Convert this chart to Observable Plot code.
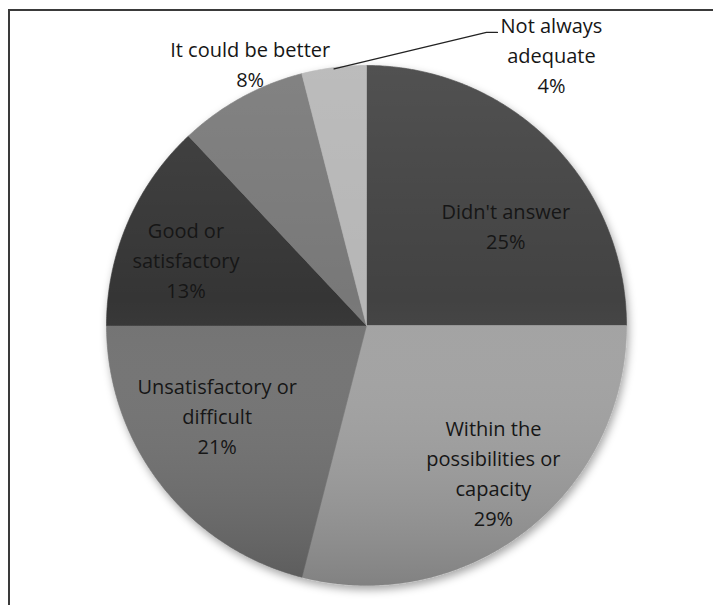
<!DOCTYPE html>
<html><head><meta charset="utf-8">
<script src="https://cdn.jsdelivr.net/npm/d3@7"></script>
<script src="https://cdn.jsdelivr.net/npm/@observablehq/plot@0.6"></script>
<style>
html,body{margin:0;padding:0;background:#fff;}
#wrap{position:relative;width:713px;height:605px;overflow:hidden;}
#chart{position:absolute;left:0;top:0;}
#frame{position:absolute;left:8px;top:9px;width:720px;height:610px;border-top:2px solid #3a3a3a;border-left:2px solid #3a3a3a;pointer-events:none;}
</style></head><body>
<div id="wrap"><div id="chart"></div><div id="frame"></div></div>
<script>
// ---- data ----
const categories = ["Didn't answer", "Within the possibilities or capacity", "Unsatisfactory or difficult", "Good or satisfactory", "It could be better", "Not always adequate"];
const labelLines = ["Didn't answer", "Within the\npossibilities or\ncapacity", "Unsatisfactory or\ndifficult", "Good or\nsatisfactory", "It could be better", "Not always\nadequate"];
const values = [25, 29, 21, 13, 8, 4];
// ---- style ----
const colors = ["#434343", "#a2a2a2", "#727272", "#363636", "#787878", "#b6b6b6"];
const labelShift = [9.5, -2.8, 6.4, -3.6, 4.8, 41.6];       // degrees from slice middle
const labelRadius = [0.658, 0.75, 0.673, 0.738, 1.1, 1.259]; // fraction of pie radius
const leaderFor = ["Not always adequate"];

// ---- layout ----
const W = 713, H = 605, cx = 366, cy = 325, R = 260;

const total = d3.sum(values);
const polar = (deg, r) => ({x: r * Math.sin(deg * Math.PI / 180), y: r * Math.cos(deg * Math.PI / 180)});
let acc = 0;
const slices = categories.map((c, i) => {
  const a0 = acc / total * 360; acc += values[i]; const a1 = acc / total * 360;
  return {category: c, i, a0, a1, mid: (a0 + a1) / 2};
});
const outline = [];
for (const s of slices) {
  outline.push({slice: s.category, ...polar(0, 0)});
  const n = Math.max(2, Math.ceil((s.a1 - s.a0) * 2));
  for (let k = 0; k <= n; k++) outline.push({slice: s.category, ...polar(s.a0 + (s.a1 - s.a0) * k / n, 1)});
  outline.push({slice: s.category, ...polar(0, 0)});
}
const labels = slices.map((s, k) => ({text: labelLines[k] + "\n" + values[k] + "%", ...polar(s.mid + labelShift[k], labelRadius[k])}));
const leaders = [];
slices.forEach((s, k) => {
  if (!leaderFor.includes(s.category)) return;
  const lab = labels[k];
  const start = polar(s.mid, 0.995);
  const end = {x: lab.x - 54 / R, y: lab.y + 23 / R};
  const elbow = {x: end.x - 11 / R, y: end.y};
  leaders.push({id: s.category, ...start}, {id: s.category, ...elbow}, {id: s.category, ...end});
});

const chart = Plot.plot({
  width: W, height: H, margin: 0,
  style: {background: "transparent"},
  x: {domain: [-1, 1], range: [cx - R, cx + R], axis: null},
  y: {domain: [-1, 1], range: [cy + R, cy - R], axis: null},
  color: {domain: categories, range: colors},
  marks: [
    Plot.line(outline, {x: "x", y: "y", z: "slice", fill: "slice", stroke: "slice", strokeWidth: 0.6, curve: "linear"}),
    Plot.line(outline, {x: "x", y: "y", z: "slice", fill: "url(#shade)", stroke: "none", curve: "linear"}),
    Plot.line(leaders, {x: "x", y: "y", z: "id", stroke: "#222", strokeWidth: 1.3}),
    Plot.text(labels, {x: "x", y: "y", text: "text", fontSize: 20, lineHeight: 1.5, dy: -2, fill: "#161616", fontFamily: "Open Sans"})
  ]
});

const ns = "http://www.w3.org/2000/svg";
const defs = document.createElementNS(ns, "defs");
defs.innerHTML = `<linearGradient id="shade" gradientUnits="userSpaceOnUse" x1="0" y1="${cy - R}" x2="0" y2="${cy + R}">
  <stop offset="0" stop-color="#fff" stop-opacity="0.08"/>
  <stop offset="0.45" stop-color="#fff" stop-opacity="0"/>
  <stop offset="1" stop-color="#000" stop-opacity="0.2"/>
</linearGradient>
<filter id="shadow" x="-10%" y="-10%" width="130%" height="130%">
  <feDropShadow dx="2" dy="4" stdDeviation="4" flood-color="#000" flood-opacity="0.35"/>
</filter>`;
chart.insertBefore(defs, chart.firstChild);
const lineGroups = chart.querySelectorAll('g[aria-label="line"]');
if (lineGroups.length) lineGroups[0].setAttribute("filter", "url(#shadow)");
document.getElementById("chart").appendChild(chart);
</script>
</body></html>
